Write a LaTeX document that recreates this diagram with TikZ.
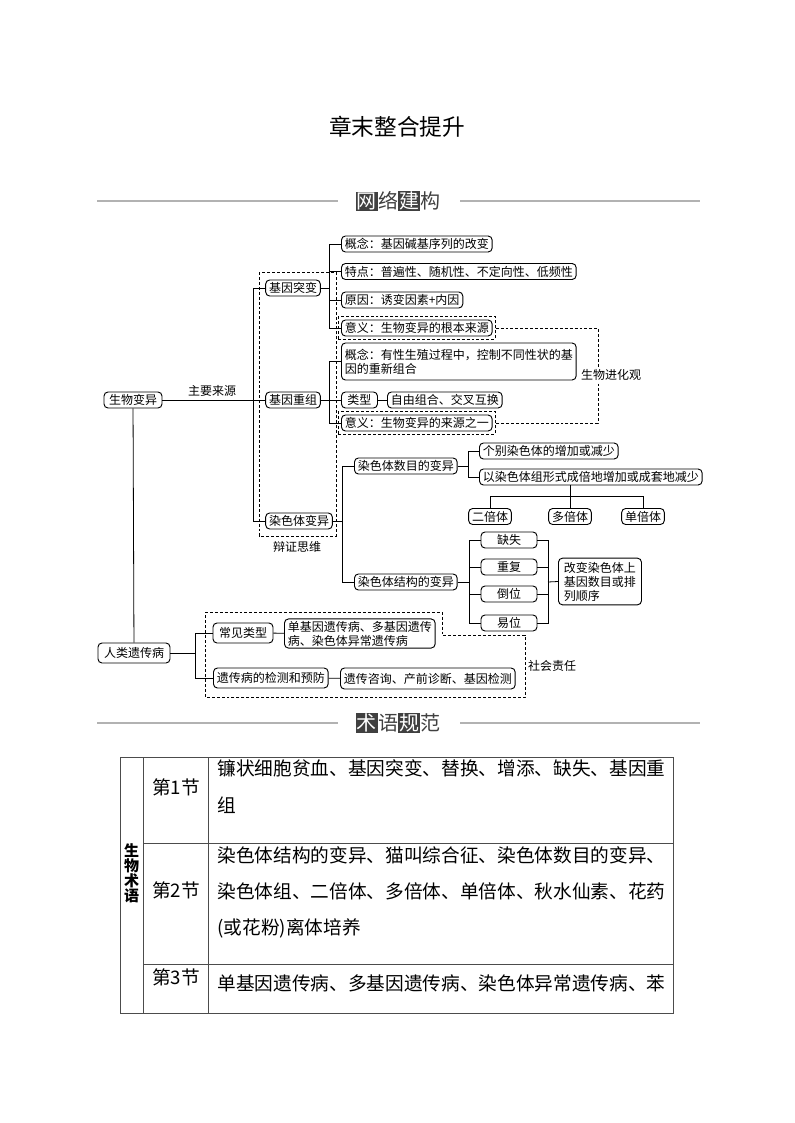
\documentclass[tikz,border=0pt]{standalone}
\usepackage{fontspec}
\setmainfont{Noto Sans CJK SC}
\usetikzlibrary{fit}
\newcommand\hdch[1]{{\setlength\fboxsep{0.8pt}\colorbox{darkgray}{\textcolor{white}{#1}}}}
\tikzset{
  box/.style={draw,line width=0.7pt,rounded corners=3pt,font=\fontsize{9}{10.5}\selectfont,inner xsep=2.5pt,inner ysep=1.5pt,minimum height=12pt},
  lbl/.style={font=\fontsize{9}{10.5}\selectfont,inner sep=1pt},
  dsh/.style={line width=0.6pt,dash pattern=on 2.2pt off 1.5pt},
  dbox/.style={draw,dsh,inner sep=2pt},
  hline/.style={line width=0.8pt,gray!60},
  tline/.style={line width=0.7pt,black!70},
  tcell/.style={anchor=west,inner sep=0pt,font=\fontsize{14}{14}\selectfont},
}
\begin{document}
\begin{tikzpicture}[x=0.75pt,y=-0.75pt,line width=0.6pt]
\useasboundingbox (0,0) rectangle (794,1123);
% title and headers
\node[font=\fontsize{17}{17}\selectfont] (title) at (397,127) {章末整合提升};
\draw[hline] (97,201) -- (338,201);
\draw[hline] (460,201) -- (700,201);
\node[font=\fontsize{15}{15}\selectfont,text=darkgray] (wljg) at (398,201) {\hdch{网}络\hdch{建}构};

% main branches
\node[box,minimum width=43.5pt] (swby) at (133,400) {生物变异};
\node[box] (jytb) at (293,288) {基因突变};
\node[box] (jycz) at (293,400) {基因重组};
\node[box] (rstby) at (299,521) {染色体变异};
\node[lbl] (zyly) at (212,391) {主要来源};

\node[box,anchor=west] (tbgn) at (341,244) {概念：基因碱基序列的改变};
\node[box,anchor=west] (tbtd) at (341,271.5) {特点：普遍性、随机性、不定向性、低频性};
\node[box,anchor=west] (tbyy) at (341,300) {原因：诱变因素+内因};
\node[box,anchor=west] (tbyi) at (341,328) {意义：生物变异的根本来源};

\node[box,anchor=west,align=left,minimum height=27.75pt] (czgn) at (341,361.5) {概念：有性生殖过程中，控制不同性状的基\\因的重新组合};
\node[box,anchor=west,minimum width=27pt] (czlx) at (341,400) {类型};
\node[box,anchor=west] (czzy) at (387,400) {自由组合、交叉互换};
\node[box,anchor=west] (czyi) at (341,423) {意义：生物变异的来源之一};

\node[box,anchor=west] (smby) at (354,466) {染色体数目的变异};
\node[box,anchor=west] (jgby) at (354,582) {染色体结构的变异};
\node[box,anchor=west] (gbzj) at (479,451) {个别染色体的增加或减少};
\node[box,anchor=west] (cbzj) at (479,477) {以染色体组形式成倍地增加或成套地减少};
\node[box] (ebt) at (490,516.5) {二倍体};
\node[box] (dbt) at (570,516.5) {多倍体};
\node[box] (dant) at (643,516.5) {单倍体};
\node[box,minimum width=42pt] (qs) at (509,540) {缺失};
\node[box,minimum width=42pt] (cf) at (509,567) {重复};
\node[box,minimum width=42pt] (dw) at (509,594) {倒位};
\node[box,minimum width=42pt] (yw) at (509,623) {易位};
\node[box,anchor=west,align=left,minimum width=62.25pt,minimum height=35pt] (gbsx) at (558,581.5) {改变染色体上\\基因数目或排\\列顺序};

\node[box,minimum width=54pt,minimum height=15pt] (rlyc) at (134,653) {人类遗传病};
\node[box,minimum width=45pt,minimum height=15pt] (cjlx) at (243,633) {常见类型};
\node[box,anchor=west,minimum height=15pt] (jcyf) at (213,678) {遗传病的检测和预防};
\node[box,anchor=west,align=left] (djyb) at (284,633.5) {单基因遗传病、多基因遗传\\病、染色体异常遗传病};
\node[box,anchor=west,minimum height=15.75pt] (yczx) at (340,678.5) {遗传咨询、产前诊断、基因检测};

% forks
\coordinate (f1) at (253,400);
\coordinate (f2) at (329,288);
\coordinate (f3) at (329,400);
\coordinate (f4) at (342,521);
\coordinate (f5) at (468,466);
\coordinate (f6) at (570,496);
\coordinate (f7) at (469,582);
\coordinate (f8) at (548,582);
\coordinate (f9) at (195,653);

\draw (swby.east) -- (f1);
\foreach \n in {jytb,jycz,rstby} \draw (f1) |- (\n.west);
\draw (jytb.east) -- (f2);
\foreach \n in {tbgn,tbtd,tbyy,tbyi} \draw (f2) |- (\n.west);
\draw (jycz.east) -- (f3);
\foreach \n in {czgn,czlx,czyi} \draw (f3) |- (\n.west);
\draw (czlx) -- (czzy);
\draw (rstby.east) -- (f4);
\foreach \n in {smby,jgby} \draw (f4) |- (\n.west);
\draw (smby.east) -- (f5);
\foreach \n in {gbzj,cbzj} \draw (f5) |- (\n.west);
\draw (f6 |- cbzj.south) -- (f6);
\foreach \n in {ebt,dbt,dant} \draw (f6) -| (\n.north);
\draw (jgby.east) -- (f7);
\foreach \n in {qs,cf,dw,yw} {
  \draw (f7) |- (\n.west);
  \draw (\n.east) -| (f8);
}
\draw (f8) -- (gbsx.west);
\draw (swby) -- (rlyc);
\draw (rlyc.east) -- (f9);
\foreach \n in {cjlx,jcyf} \draw (f9) |- (\n.west);
\draw (cjlx) -- (djyb);
\draw (jcyf) -- (yczx);

% dashed groups
\draw[dsh] (259,272) rectangle (336,536);
\node[lbl] (bzsw) at (297,547) {辩证思维};
\node[dbox,fit=(tbyi)] (tbyid) {};
\node[dbox,fit=(czyi)] (czyid) {};
\coordinate (jh) at (598,375);
\draw[dsh] (tbyid.east) -| (jh) |- (czyid.east);
\node[lbl,fill=white] (swjh) at (611,375) {生物进化观};
\draw[dsh] (205,612) -- (442,612) -- (442,635) -- (525,635) -- (525,697) -- (205,697) -- cycle;
\node[lbl] (shzr) at (552,666) {社会责任};

% terms table
\draw[hline] (97,723) -- (338,723);
\draw[hline] (460,723) -- (700,723);
\node[font=\fontsize{15}{15}\selectfont,text=darkgray] (syfg) at (398,723) {\hdch{术}语\hdch{规}范};
\draw[tline] (120,757) rectangle (673,1013);
\draw[tline] (143,757) -- (143,1013);
\draw[tline] (208,757) -- (208,1013);
\draw[tline] (143,843) -- (673,843);
\draw[tline] (143,964) -- (673,964);
\node[align=center,inner sep=0pt,font=\fontsize{11.25}{11.25}\selectfont\bfseries] (swsy) at (131.5,873) {生\\物\\术\\语};
\node[font=\fontsize{14}{14}\selectfont] (j1) at (176,787) {第1节};
\node[font=\fontsize{14}{14}\selectfont] (j2) at (176,890) {第2节};
\node[font=\fontsize{14}{14}\selectfont] (j3) at (176,977) {第3节};
\node[tcell] (r1a) at (217,768) {镰状细胞贫血、基因突变、替换、增添、缺失、基因重};
\node[tcell] (r1b) at (217,805) {组};
\node[tcell] (r2a) at (217,855) {染色体结构的变异、猫叫综合征、染色体数目的变异、};
\node[tcell] (r2b) at (217,891) {染色体组、二倍体、多倍体、单倍体、秋水仙素、花药};
\node[tcell] (r2c) at (217,928) {(或花粉)离体培养};
\node[tcell] (r3a) at (217,983) {单基因遗传病、多基因遗传病、染色体异常遗传病、苯};
\end{tikzpicture}
\end{document}
